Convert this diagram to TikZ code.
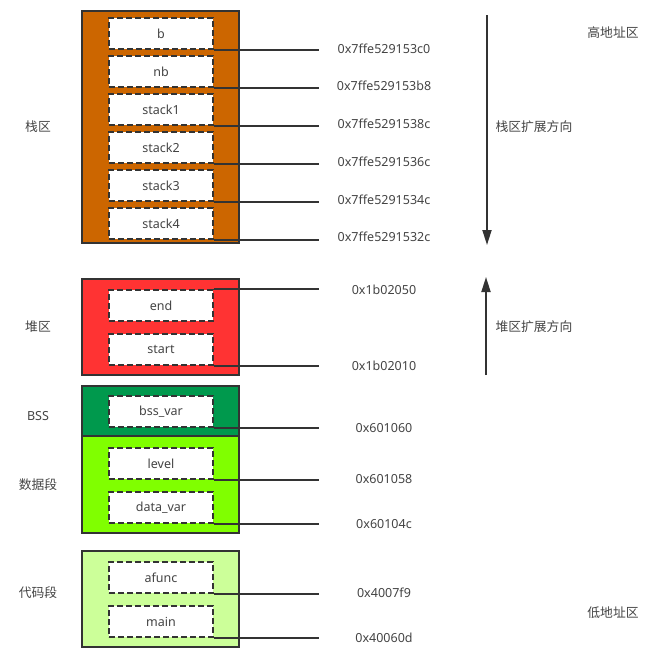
\documentclass[tikz,border=0pt]{standalone}
\usepackage{fontspec}
\setmainfont{Noto Sans}
\newfontfamily\cjk{Noto Sans CJK SC}
\usetikzlibrary{positioning}
\usetikzlibrary{arrows.meta}

\definecolor{linec}{HTML}{333333}
\definecolor{textc}{HTML}{444444}
\definecolor{stackc}{HTML}{CC6600}
\definecolor{heapc}{HTML}{FF3333}
\definecolor{bssc}{HTML}{00994D}
\definecolor{datac}{HTML}{80FF00}
\definecolor{codec}{HTML}{CCFF99}

\tikzset{
  seg/.style={draw=linec, line width=2pt, minimum width=157pt, inner sep=0pt},
  cell/.style={draw=linec, fill=white, line width=2pt, dash pattern=on 6pt off 3pt,
    minimum width=104pt, minimum height=31pt, inner sep=0pt, text=textc,
    font=\fontsize{12.5}{15}\selectfont},
  addr/.style={text=textc, font=\fontsize{12.5}{15}\selectfont},
  tag/.style={text=textc, font=\fontsize{12.8}{15}\selectfont\cjk},
  link/.style={draw=linec, line width=1.8pt},
  growarrow/.style={draw=linec, line width=1.8pt, -{Triangle[length=15pt,width=9pt]}}
}

\begin{document}
\begin{tikzpicture}[x=1pt,y=-1pt]
	\useasboundingbox (0,0) rectangle (666,664);

	\def\cx{161};
	\def\dy{38};

	% segments
	\node[seg, fill=stackc, minimum height=232pt] (stackseg) at (160.5,127) {};
	\node[seg, fill=heapc, minimum height=96pt] (heapseg) at (160.5,327) {};
	\node[seg, fill=bssc, minimum height=50pt] (bssseg) at (160.5,411) {};
	\node[seg, fill=datac, minimum height=97pt] (dataseg) at (160.5,484.5) {};
	\node[seg, fill=codec, minimum height=96pt] (codeseg) at (160.5,599) {};

	\coordinate (rim) at (319,0);

	% stack
	\foreach \i/\txt/\num in {0/b/0x7ffe529153c0, 1/nb/0x7ffe529153b8, 2/stack1/0x7ffe5291538c,
	                          3/stack2/0x7ffe5291536c, 4/stack3/0x7ffe5291534c, 5/stack4/0x7ffe5291532c} {
		\node[cell] (s\i) at (\cx, 33.5+\i*\dy) {\txt};
		\node[addr] (a\i) at (384, 48.5+\i*37.7) {\num};
		\draw[link] (s\i.south east) -- (s\i.south east -| rim);
	}

	% heap
	\node[cell] (hend) at (\cx,305.5) {end};
	\node[cell] (hstart) at (\cx,349.5) {start};
	\node[addr] (ahend) at (384,290) {0x1b02050};
	\node[addr] (ahstart) at (384,366) {0x1b02010};
	\draw[link] (hend.north east) -- (hend.north east -| rim);
	\draw[link] (hstart.south east) -- (hstart.south east -| rim);

	% bss, data, code
	\node[cell] (bvar) at (\cx,411.5) {bss\_var};
	\node[cell] (dlevel) at (\cx,463.5) {level};
	\node[cell] (dvar) at (\cx,507.5) {data\_var};
	\node[cell] (cafunc) at (\cx,577.5) {afunc};
	\node[cell] (cmain) at (\cx,621.5) {main};

	\node[addr] (abvar) at (384,428) {0x601060};
	\node[addr] (adlevel) at (384,479) {0x601058};
	\node[addr] (advar) at (384,524) {0x60104c};
	\node[addr] (acafunc) at (384,593) {0x4007f9};
	\node[addr] (acmain) at (384,638) {0x40060d};

	\foreach \n in {bvar, dlevel, dvar, cafunc, cmain} {
		\draw[link] (\n.south east) -- (\n.south east -| rim);
	}

	% segment names
	\node[tag] (tstack) at (38,127) {栈区};
	\node[tag] (theap) at (38,327) {堆区};
	\node[addr] (tbss) at (38,416) {BSS};
	\node[tag] (tdata) at (38,485) {数据段};
	\node[tag] (tcode) at (38,593) {代码段};

	% growth directions
	\coordinate (gstop) at (487,15);
	\coordinate (gsbot) at (487,245);
	\coordinate (ghbot) at (486,375);
	\coordinate (ghtop) at (486,277);
	\draw[growarrow] (gstop) -- (gsbot);
	\draw[growarrow] (ghbot) -- (ghtop);
	\node[tag, anchor=west] (tsgrow) at (492,127) {栈区扩展方向};
	\node[tag, anchor=west] (thgrow) at (492,327) {堆区扩展方向};

	\node[tag] (thigh) at (613,33) {高地址区};
	\node[tag] (tlow) at (613,613) {低地址区};

\end{tikzpicture}
\end{document}
